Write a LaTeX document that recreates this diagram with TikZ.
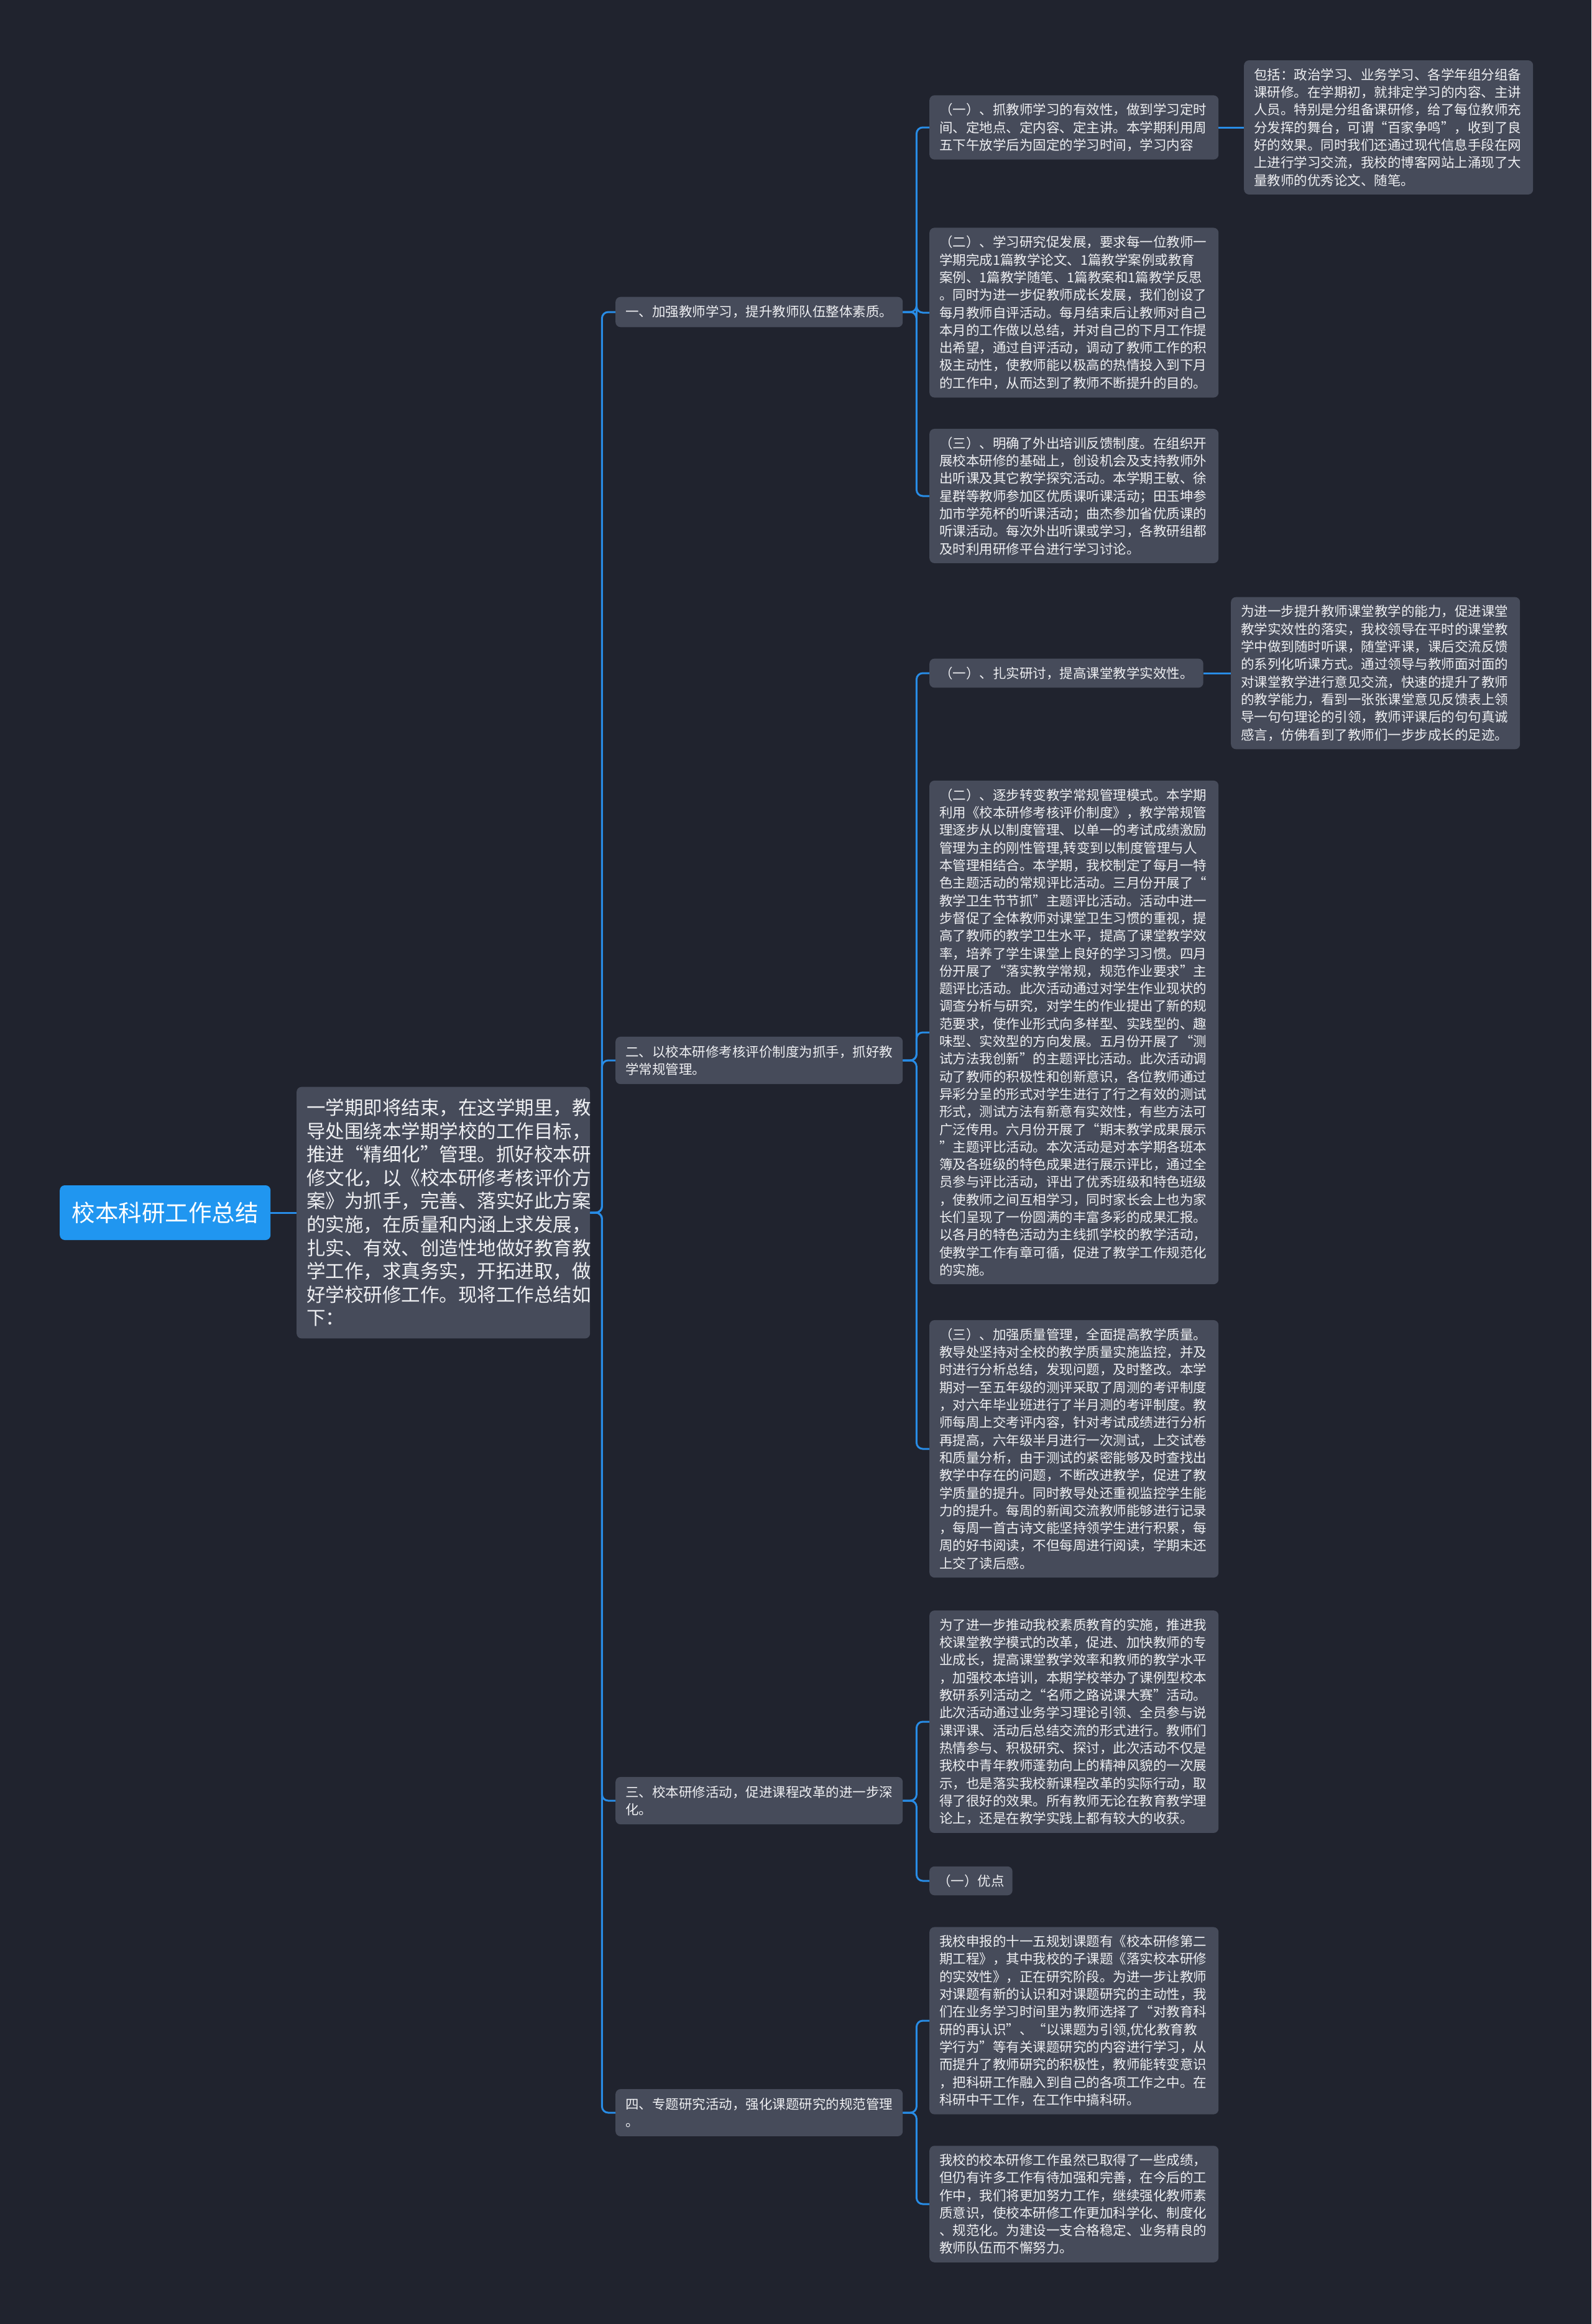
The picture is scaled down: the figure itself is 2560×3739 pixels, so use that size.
\documentclass[tikz,border=0pt]{standalone}
\usepackage{fontspec}
\setmainfont{Noto Sans CJK SC}
\definecolor{bgnavy}{RGB}{32,35,46}
\definecolor{boxgray}{RGB}{70,75,90}
\definecolor{rootblue}{RGB}{32,150,240}
\definecolor{linkblue}{RGB}{40,140,230}
\definecolor{textwhite}{RGB}{238,239,242}
\newcommand\leaffont{\fontsize{21.5}{28.3}\selectfont}

\begin{document}
\begin{tikzpicture}[x=1pt, y=-1pt,
    rootbox/.style={fill=rootblue, text=white, rounded corners=8pt, minimum width=339pt, minimum height=88pt, font=\fontsize{37.5}{45}\selectfont},
    introbox/.style={fill=boxgray, text=textwhite, rounded corners=8pt, align=left, text width=440pt, inner xsep=16pt, inner ysep=19pt, font=\fontsize{30.5}{37.6}\selectfont},
    topicbox/.style={fill=boxgray, text=textwhite, rounded corners=8pt, align=left, text width=430pt, inner xsep=16pt, inner ysep=14pt, font=\leaffont},
    leafbox/.style={fill=boxgray, text=textwhite, rounded corners=8pt, align=left, text width=433pt, inner xsep=16pt, inner ysep=13pt, font=\leaffont},
    tagbox/.style={fill=boxgray, text=textwhite, rounded corners=8pt, inner xsep=16pt, inner ysep=13pt, font=\leaffont},
    wire/.style={draw=linkblue, line width=3pt, rounded corners=10pt}]

    \fill[bgnavy] (0,0) rectangle (2560,3739);
    \useasboundingbox (0,0) rectangle (2560,3739);

    % centre
    \node[rootbox, anchor=west] (root) at (96,1951) {校本科研工作总结};
    \node[introbox, anchor=west] (intro) at (477,1951) {一学期即将结束，在这学期里，教\\
导处围绕本学期学校的工作目标，\\
推进“精细化”管理。抓好校本研\\
修文化，以《校本研修考核评价方\\
案》为抓手，完善、落实好此方案\\
的实施，在质量和内涵上求发展，\\
扎实、有效、创造性地做好教育教\\
学工作，求真务实，开拓进取，做\\
好学校研修工作。现将工作总结如\\
下：};

    % four topics
    \node[topicbox, anchor=west] (b1) at (990,502) {一、加强教师学习，提升教师队伍整体素质。};
    \node[topicbox, anchor=west] (b2) at (990,1706) {二、以校本研修考核评价制度为抓手，抓好教\\
学常规管理。};
    \node[topicbox, anchor=west] (b3) at (990,2897) {三、校本研修活动，促进课程改革的进一步深\\
化。};
    \node[topicbox, anchor=west] (b4) at (990,3399) {四、专题研究活动，强化课题研究的规范管理\\
。};

    % topic one
    \node[leafbox, anchor=west] (l1a) at (1495,205) {（一）、抓教师学习的有效性，做到学习定时\\
间、定地点、定内容、定主讲。本学期利用周\\
五下午放学后为固定的学习时间，学习内容};
    \node[leafbox, anchor=west] (r1) at (2001,205) {包括：政治学习、业务学习、各学年组分组备\\
课研修。在学期初，就排定学习的内容、主讲\\
人员。特别是分组备课研修，给了每位教师充\\
分发挥的舞台，可谓“百家争鸣”，收到了良\\
好的效果。同时我们还通过现代信息手段在网\\
上进行学习交流，我校的博客网站上涌现了大\\
量教师的优秀论文、随笔。};
    \node[leafbox, anchor=west] (l1b) at (1495,503) {（二）、学习研究促发展，要求每一位教师一\\
学期完成1篇教学论文、1篇教学案例或教育\\
案例、1篇教学随笔、1篇教案和1篇教学反思\\
。同时为进一步促教师成长发展，我们创设了\\
每月教师自评活动。每月结束后让教师对自己\\
本月的工作做以总结，并对自己的下月工作提\\
出希望，通过自评活动，调动了教师工作的积\\
极主动性，使教师能以极高的热情投入到下月\\
的工作中，从而达到了教师不断提升的目的。};
    \node[leafbox, anchor=west] (l1c) at (1495,798) {（三）、明确了外出培训反馈制度。在组织开\\
展校本研修的基础上，创设机会及支持教师外\\
出听课及其它教学探究活动。本学期王敏、徐\\
星群等教师参加区优质课听课活动；田玉坤参\\
加市学苑杯的听课活动；曲杰参加省优质课的\\
听课活动。每次外出听课或学习，各教研组都\\
及时利用研修平台进行学习讨论。};

    % topic two
    \node[tagbox, anchor=west] (l2a) at (1495,1083) {（一）、扎实研讨，提高课堂教学实效性。};
    \node[leafbox, anchor=west] (r2) at (1980,1083) {为进一步提升教师课堂教学的能力，促进课堂\\
教学实效性的落实，我校领导在平时的课堂教\\
学中做到随时听课，随堂评课，课后交流反馈\\
的系列化听课方式。通过领导与教师面对面的\\
对课堂教学进行意见交流，快速的提升了教师\\
的教学能力，看到一张张课堂意见反馈表上领\\
导一句句理论的引领，教师评课后的句句真诚\\
感言，仿佛看到了教师们一步步成长的足迹。};
    \node[leafbox, anchor=west] (l2b) at (1495,1661) {（二）、逐步转变教学常规管理模式。本学期\\
利用《校本研修考核评价制度》，教学常规管\\
理逐步从以制度管理、以单一的考试成绩激励\\
管理为主的刚性管理,转变到以制度管理与人\\
本管理相结合。本学期，我校制定了每月一特\\
色主题活动的常规评比活动。三月份开展了“\\
教学卫生节节抓”主题评比活动。活动中进一\\
步督促了全体教师对课堂卫生习惯的重视，提\\
高了教师的教学卫生水平，提高了课堂教学效\\
率，培养了学生课堂上良好的学习习惯。四月\\
份开展了“落实教学常规，规范作业要求”主\\
题评比活动。此次活动通过对学生作业现状的\\
调查分析与研究，对学生的作业提出了新的规\\
范要求，使作业形式向多样型、实践型的、趣\\
味型、实效型的方向发展。五月份开展了“测\\
试方法我创新”的主题评比活动。此次活动调\\
动了教师的积极性和创新意识，各位教师通过\\
异彩分呈的形式对学生进行了行之有效的测试\\
形式，测试方法有新意有实效性，有些方法可\\
广泛传用。六月份开展了“期末教学成果展示\\
”主题评比活动。本次活动是对本学期各班本\\
簿及各班级的特色成果进行展示评比，通过全\\
员参与评比活动，评出了优秀班级和特色班级\\
，使教师之间互相学习，同时家长会上也为家\\
长们呈现了一份圆满的丰富多彩的成果汇报。\\
以各月的特色活动为主线抓学校的教学活动，\\
使教学工作有章可循，促进了教学工作规范化\\
的实施。};
    \node[leafbox, anchor=west] (l2c) at (1495,2331) {（三）、加强质量管理，全面提高教学质量。\\
教导处坚持对全校的教学质量实施监控，并及\\
时进行分析总结，发现问题，及时整改。本学\\
期对一至五年级的测评采取了周测的考评制度\\
，对六年毕业班进行了半月测的考评制度。教\\
师每周上交考评内容，针对考试成绩进行分析\\
再提高，六年级半月进行一次测试，上交试卷\\
和质量分析，由于测试的紧密能够及时查找出\\
教学中存在的问题，不断改进教学，促进了教\\
学质量的提升。同时教导处还重视监控学生能\\
力的提升。每周的新闻交流教师能够进行记录\\
，每周一首古诗文能坚持领学生进行积累，每\\
周的好书阅读，不但每周进行阅读，学期末还\\
上交了读后感。};

    % topic three
    \node[leafbox, anchor=west] (l3a) at (1495,2770) {为了进一步推动我校素质教育的实施，推进我\\
校课堂教学模式的改革，促进、加快教师的专\\
业成长，提高课堂教学效率和教师的教学水平\\
，加强校本培训，本期学校举办了课例型校本\\
教研系列活动之“名师之路说课大赛”活动。\\
此次活动通过业务学习理论引领、全员参与说\\
课评课、活动后总结交流的形式进行。教师们\\
热情参与、积极研究、探讨，此次活动不仅是\\
我校中青年教师蓬勃向上的精神风貌的一次展\\
示，也是落实我校新课程改革的实际行动，取\\
得了很好的效果。所有教师无论在教育教学理\\
论上，还是在教学实践上都有较大的收获。};
    \node[tagbox, anchor=west, inner xsep=13pt] (l3b) at (1495,3026) {（一）优点};

    % topic four
    \node[leafbox, anchor=west] (l4a) at (1495,3251) {我校申报的十一五规划课题有《校本研修第二\\
期工程》，其中我校的子课题《落实校本研修\\
的实效性》，正在研究阶段。为进一步让教师\\
对课题有新的认识和对课题研究的主动性，我\\
们在业务学习时间里为教师选择了“对教育科\\
研的再认识”、“以课题为引领,优化教育教\\
学行为”等有关课题研究的内容进行学习，从\\
而提升了教师研究的积极性，教师能转变意识\\
，把科研工作融入到自己的各项工作之中。在\\
科研中干工作，在工作中搞科研。};
    \node[leafbox, anchor=west] (l4b) at (1495,3546) {我校的校本研修工作虽然已取得了一些成绩，\\
但仍有许多工作有待加强和完善，在今后的工\\
作中，我们将更加努力工作，继续强化教师素\\
质意识，使校本研修工作更加科学化、制度化\\
、规范化。为建设一支合格稳定、业务精良的\\
教师队伍而不懈努力。};

    % connectors
    \draw[wire] (root.east) -- (intro.west);
    \foreach \t in {b1,b2,b3,b4}
        \draw[wire] (intro.east) -- ++(19,0) |- (\t.west);
    \foreach \l in {l1a,l1b,l1c}
        \draw[wire] (b1.east) -- ++(22,0) |- (\l.west);
    \foreach \l in {l2a,l2b,l2c}
        \draw[wire] (b2.east) -- ++(22,0) |- (\l.west);
    \foreach \l in {l3a,l3b}
        \draw[wire] (b3.east) -- ++(22,0) |- (\l.west);
    \foreach \l in {l4a,l4b}
        \draw[wire] (b4.east) -- ++(22,0) |- (\l.west);
    \draw[wire] (l1a.east) -- (r1.west);
    \draw[wire] (l2a.east) -- (r2.west);
\end{tikzpicture}
\end{document}
